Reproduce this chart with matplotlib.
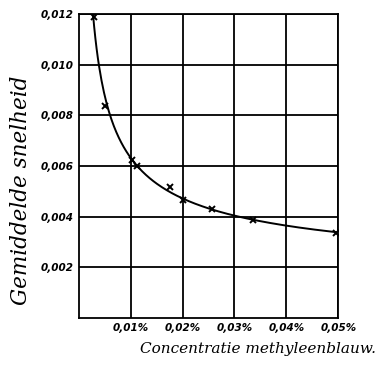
import matplotlib.pyplot as plt
import numpy as np

plt.rcParams.update({
    'font.family': 'DejaVu Sans',
    'font.style': 'italic',
    'font.weight': 'bold',
})

# concentration (%) and mean speed
conc = [0.0029, 0.0050, 0.0103, 0.0112, 0.0176, 0.0201, 0.0256, 0.0335, 0.0496]
speed = [0.0119, 0.00836, 0.00623, 0.0060, 0.00517, 0.00466, 0.0043, 0.00387, 0.00335]

xticks = [0.01, 0.02, 0.03, 0.04, 0.05]
xticklabels = ['0,01%', '0,02%', '0,03%', '0,04%', '0,05%']
yticks = [0.002, 0.004, 0.006, 0.008, 0.010, 0.012]
yticklabels = ['0,002', '0,004', '0,006', '0,008', '0,010', '0,012']

fig = plt.figure(figsize=(3.83, 3.70), dpi=100)
ax = fig.add_axes([0.206, 0.141, 0.677, 0.821])

# smooth hand-drawn curve: quadratic fit in log-log space
coef = np.polyfit(np.log(conc), np.log(speed), 2)
xs = np.linspace(0.0027, 0.05, 200)
ax.plot(xs, np.exp(np.polyval(coef, np.log(xs))), color='black', lw=1.4, zorder=3)
ax.plot(conc, speed, 'x', color='black', ms=5, mew=1.4, zorder=4)

ax.set_xlim(0, 0.05)
ax.set_ylim(0, 0.012)
ax.set_xticks(xticks)
ax.set_xticklabels(xticklabels, fontsize=7.5)
ax.set_yticks(yticks)
ax.set_yticklabels(yticklabels, fontsize=7.5)
ax.tick_params(length=0, pad=4)
ax.grid(True, color='black', lw=1.3)
for s in ax.spines.values():
    s.set_linewidth(1.3)

ax.set_xlabel('Concentratie methyleenblauw.', fontsize=11, fontweight='normal',
              family='DejaVu Serif', labelpad=6, x=0.69)
ax.set_ylabel('Gemiddelde snelheid', fontsize=15.5, fontweight='normal',
              family='DejaVu Serif', labelpad=6, y=0.42)

fig.savefig('out.png', dpi=100)
